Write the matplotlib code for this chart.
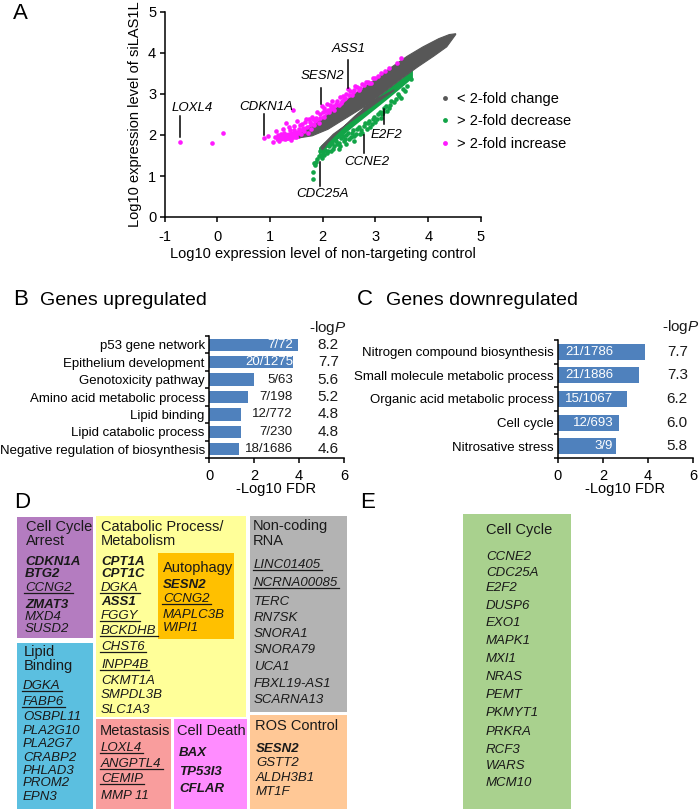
import matplotlib
matplotlib.use("Agg")
import matplotlib.pyplot as plt
from matplotlib.patches import Rectangle
from matplotlib.lines import Line2D

plt.rcParams['font.family'] = ['Liberation Sans', 'DejaVu Sans']
plt.rcParams['mathtext.fontset'] = 'custom'
plt.rcParams['mathtext.rm'] = 'Liberation Sans'
plt.rcParams['mathtext.it'] = 'Liberation Sans:italic'
plt.rcParams['axes.unicode_minus'] = False

# ---------------- Panel A data ----------------
# dense grey cloud (< 2-fold change), outline of the point cloud
gray_top_x = [1.55, 1.8, 2.1, 2.4, 2.7, 3.0, 3.3, 3.6, 3.9, 4.2, 4.4, 4.52]
gray_top_y = [2.0, 2.2, 2.48, 2.78, 3.08, 3.36, 3.65, 3.92, 4.15, 4.35, 4.45, 4.47]
gray_bot_x = [4.52, 4.35, 4.1, 3.8, 3.5, 3.2, 2.9, 2.6, 2.3, 2.1, 1.97]
gray_bot_y = [4.45, 4.15, 3.92, 3.66, 3.38, 3.08, 2.78, 2.45, 2.08, 1.82, 1.58]
gap_lo_x = [1.97, 2.2, 2.5, 2.8, 3.1, 3.35]
gap_lo_y = [1.72, 2.02, 2.30, 2.58, 2.86, 3.08]
gap_hi_x = [3.35, 3.0, 2.7, 2.4, 2.1, 1.8, 1.55]
gap_hi_y = [3.10, 2.86, 2.62, 2.38, 2.14, 1.98, 1.93]

# > 2-fold increase (magenta)
mag_band_x = [1.1, 1.3, 1.55, 1.8, 2.1, 2.4, 2.7, 2.9]
mag_band_lo = [1.85, 1.86, 1.92, 2.1, 2.38, 2.68, 2.98, 3.2]
mag_band_hi = [1.98, 2.06, 2.14, 2.3, 2.58, 2.86, 3.13, 3.28]
mag_x = [-0.71, -0.10, 0.10, 0.89, 0.96, 1.43, 1.05, 1.10, 1.12, 1.18, 1.20, 1.25, 1.28,
         1.30, 1.35, 1.38, 1.40, 1.45, 1.48, 1.50, 1.52, 1.55, 1.58, 1.60, 1.65, 1.68,
         1.70, 1.72, 1.75, 1.78, 1.80, 1.83, 1.86, 1.90, 1.92, 1.95, 1.98, 2.02, 2.05,
         2.08, 2.12, 2.15, 2.18, 2.22, 2.25, 2.30, 2.32, 2.36, 2.40, 2.45, 2.48, 2.52,
         2.55, 2.60, 2.65, 2.70, 2.78, 2.85, 2.92, 3.00, 3.10, 3.26, 3.48,
         1.15, 1.22, 1.27, 1.32, 1.36, 1.42, 1.46, 1.53, 1.57, 1.62, 1.66, 1.74, 1.77,
         1.82, 1.88, 1.94, 2.00, 2.03, 2.10, 2.14, 2.20, 2.27, 2.34, 2.38, 2.42, 2.50,
         2.58, 2.62, 2.68, 2.74, 2.82, 2.88, 2.96, 3.05, 3.18, 3.40]
mag_y = [1.82, 1.80, 2.06, 1.92, 1.97, 2.60, 1.82, 1.95, 2.10, 1.86, 2.02, 2.15, 1.90,
         2.30, 2.00, 2.12, 1.88, 2.22, 2.05, 1.95, 2.35, 2.15, 2.02, 2.28, 2.10, 2.40,
         2.20, 2.05, 2.32, 2.15, 2.45, 2.25, 2.35, 2.55, 2.30, 2.42, 2.70, 2.45, 2.58,
         2.75, 2.55, 2.66, 2.84, 2.62, 2.76, 2.72, 2.92, 2.82, 2.88, 3.00, 3.12, 3.08,
         2.98, 3.10, 3.18, 3.15, 3.22, 3.30, 3.26, 3.40, 3.50, 3.63, 3.88,
         2.00, 1.95, 2.05, 1.93, 2.20, 1.98, 2.12, 2.05, 2.25, 2.18, 2.32, 2.40, 2.28,
         2.38, 2.42, 2.50, 2.55, 2.65, 2.60, 2.72, 2.70, 2.82, 2.78, 2.95, 2.90, 2.98,
         3.05, 3.20, 3.10, 3.25, 3.30, 3.28, 3.38, 3.45, 3.55, 3.75]

# > 2-fold decrease (green)
grn_band_x = [1.92, 2.0, 2.3, 2.6, 2.9, 3.2, 3.5, 3.7]
grn_band_lo = [1.52, 1.62, 1.92, 2.24, 2.55, 2.86, 3.18, 3.4]
grn_band_hi = [1.7, 1.8, 2.12, 2.48, 2.8, 3.1, 3.4, 3.6]
grn_x = [1.81, 1.82, 1.86, 1.84, 1.90, 1.93, 1.96, 1.98, 2.00, 2.05, 2.08, 2.12, 2.15,
         2.18, 2.22, 2.25, 2.31, 2.30, 2.35, 2.40, 2.45, 2.50, 2.55, 2.60, 2.65, 2.70,
         2.75, 2.78, 2.85, 2.90, 2.95, 3.00, 3.05, 3.10, 3.14, 3.17, 3.22, 3.28, 3.35,
         3.45, 3.49, 3.55, 3.68,
         1.88, 1.95, 2.02, 2.10, 2.14, 2.20, 2.27, 2.33, 2.38, 2.43, 2.48, 2.53, 2.58,
         2.63, 2.68, 2.72, 2.80, 2.83, 2.88, 2.93, 2.98, 3.03, 3.08, 3.12, 3.20, 3.25,
         3.30, 3.38, 3.42, 3.52, 3.60, 2.60, 2.45]
grn_y = [0.93, 1.09, 1.26, 1.32, 1.42, 1.48, 1.52, 1.45, 1.58, 1.64, 1.55, 1.72, 1.62,
         1.80, 1.72, 1.86, 1.65, 1.80, 1.93, 1.85, 2.00, 1.90, 2.06, 1.98, 2.14, 2.02,
         2.06, 2.22, 2.30, 2.20, 2.40, 2.32, 2.50, 2.42, 2.55, 2.66, 2.58, 2.72, 2.80,
         2.94, 2.90, 3.08, 3.37,
         1.35, 1.60, 1.50, 1.62, 1.78, 1.66, 1.78, 1.72, 1.98, 1.90, 2.05, 1.96, 2.12,
         2.02, 2.20, 2.12, 2.30, 2.15, 2.35, 2.28, 2.45, 2.40, 2.55, 2.50, 2.70, 2.65,
         2.82, 2.88, 3.00, 3.12, 3.20, 1.85, 1.78]

gene_labels = ["LOXL4", "CDKN1A", "SESN2", "ASS1", "CDC25A", "CCNE2", "E2F2"]
legend_labels = ["< 2-fold change", "> 2-fold decrease", "> 2-fold increase"]

# ---------------- Panel B / C data ----------------
b_terms = ["p53 gene network", "Epithelium development", "Genotoxicity pathway",
           "Amino acid metabolic process", "Lipid binding", "Lipid catabolic process",
           "Negative regulation of biosynthesis"]
b_fdr = [3.95, 3.75, 2.0, 1.75, 1.42, 1.42, 1.35]
b_ratio = ["7/72", "20/1275", "5/63", "7/198", "12/772", "7/230", "18/1686"]
b_logp = ["8.2", "7.7", "5.6", "5.2", "4.8", "4.8", "4.6"]

c_terms = ["Nitrogen compound biosynthesis", "Small molecule metabolic process",
           "Organic acid metabolic process", "Cell cycle", "Nitrosative stress"]
c_fdr = [3.87, 3.6, 3.07, 2.7, 2.58]
c_ratio = ["21/1786", "21/1886", "15/1067", "12/693", "3/9"]
c_logp = ["7.7", "7.3", "6.2", "6.0", "5.8"]

# ---------------- Panel D / E data ----------------
arrest_title = ["Cell Cycle", "Arrest"]
arrest_genes = ["CDKN1A", "BTG2", "CCNG2", "ZMAT3", "MXD4", "SUSD2"]
lipid_title = ["Lipid", "Binding"]
lipid_genes = ["DGKA", "FABP6", "OSBPL11", "PLA2G10", "PLA2G7", "CRABP2", "PHLAD3", "PROM2", "EPN3"]
catab_title = ["Catabolic Process/", "Metabolism"]
catab_genes = ["CPT1A", "CPT1C", "DGKA", "ASS1", "FGGY", "BCKDHB", "CHST6", "INPP4B",
               "CKMT1A", "SMPDL3B", "SLC1A3"]
auto_title = ["Autophagy"]
auto_genes = ["SESN2", "CCNG2", "MAPLC3B", "WIPI1"]
ncrna_title = ["Non-coding", "RNA"]
ncrna_genes = ["LINC01405", "NCRNA00085", "TERC", "RN7SK", "SNORA1", "SNORA79", "UCA1",
               "FBXL19-AS1", "SCARNA13"]
meta_title = ["Metastasis"]
meta_genes = ["LOXL4", "ANGPTL4", "CEMIP", "MMP 11"]
death_title = ["Cell Death"]
death_genes = ["BAX", "TP53I3", "CFLAR"]
ros_title = ["ROS Control"]
ros_genes = ["SESN2", "GSTT2", "ALDH3B1", "MT1F"]
e_title = ["Cell Cycle"]
e_genes = ["CCNE2", "CDC25A", "E2F2", "DUSP6", "EXO1", "MAPK1", "MXI1", "NRAS", "PEMT",
           "PKMYT1", "PRKRA", "RCF3", "WARS", "MCM10"]

bold_genes = {"arrest": ["CDKN1A", "BTG2", "ZMAT3"], "catab": ["CPT1A", "CPT1C", "ASS1"],
              "auto": ["SESN2"], "death": ["BAX", "TP53I3", "CFLAR"], "ros": ["SESN2"]}
under_genes = {"arrest": ["CCNG2"], "lipid": ["DGKA", "FABP6"],
               "catab": ["DGKA", "FGGY", "BCKDHB", "CHST6", "INPP4B"], "auto": ["CCNG2"],
               "ncrna": ["LINC01405", "NCRNA00085"], "meta": ["LOXL4", "ANGPTL4", "CEMIP"]}

# ---------------- Figure ----------------
W, H = 700, 809
fig = plt.figure(figsize=(W / 100, H / 100), dpi=100)
fig.patch.set_facecolor('white')

def ax_rect(x0, y0, x1, y1):
    return [x0 / W, 1 - y1 / H, (x1 - x0) / W, (y1 - y0) / H]

ov = fig.add_axes([0, 0, 1, 1])
ov.set_xlim(0, W)
ov.set_ylim(H, 0)
ov.axis('off')

GRAY = '#575757'
GREEN = '#12a447'
MAG = '#ff1aff'
BLUE = '#4f81bd'
TXT = '#1a1a1a'

# ---------------- Panel A ----------------
axA = fig.add_axes(ax_rect(164.5, 12, 481, 217))
axA.fill_between(mag_band_x, mag_band_lo, mag_band_hi, color=MAG, lw=0, zorder=1)
axA.fill_between(grn_band_x, grn_band_lo, grn_band_hi, color=GREEN, lw=0, zorder=1)
poly_x = gray_top_x + gray_bot_x + gap_lo_x + gap_hi_x
poly_y = gray_top_y + gray_bot_y + gap_lo_y + gap_hi_y
axA.fill(poly_x, poly_y, color=GRAY, lw=0.8, ec=GRAY, zorder=2)
axA.scatter(mag_x, mag_y, s=11, color=MAG, lw=0, zorder=3)
axA.scatter(grn_x, grn_y, s=11, color=GREEN, lw=0, zorder=3)

axA.set_xlim(-1, 5)
axA.set_ylim(0, 5)
axA.set_xticks(range(-1, 6))
axA.set_yticks(range(0, 6))
for s in ['top', 'right']:
    axA.spines[s].set_visible(False)
for s in ['left', 'bottom']:
    axA.spines[s].set_linewidth(1.1)
axA.tick_params(direction='out', length=3.5, width=1.1, labelsize=10.5)
axA.tick_params(axis='x', pad=6)
axA.tick_params(axis='y', pad=2.5)
axA.set_xlabel("Log10 expression level of non-targeting control", fontsize=10.5, labelpad=2)
axA.set_ylabel("Log10 expression level of siLAS1L", fontsize=10.5, labelpad=4)

lab_line_x = [-0.71, 0.89, 1.96, 2.48, 1.945, 2.78, 3.17]
lab_line_y0 = [1.96, 2.00, 2.75, 3.15, 0.75, 1.57, 2.28]
lab_line_y1 = [2.46, 2.51, 3.15, 3.84, 1.34, 2.00, 2.63]
lab_tx = [-0.48, 0.92, 2.0, 2.49, 1.99, 2.84, 3.21]
lab_ty = [2.65, 2.68, 3.43, 4.09, 0.56, 1.34, 2.0]
for g, lx, y0, y1, tx, ty in zip(gene_labels, lab_line_x, lab_line_y0, lab_line_y1, lab_tx, lab_ty):
    axA.plot([lx, lx], [y0, y1], color='black', lw=1.1, zorder=4)
    axA.text(tx, ty, g, ha='center', va='center', fontsize=9.5, style='italic', zorder=5)

handles = [Line2D([], [], ls='none', marker='o', ms=3.5, mec='none', mfc=c)
           for c in [GRAY, GREEN, MAG]]
axA.legend(handles, legend_labels, loc='upper left', bbox_to_anchor=(0.855, 0.64),
           frameon=False, fontsize=10.5, handlelength=0.6, handletextpad=0.5,
           labelspacing=0.6, borderaxespad=0)

ov.text(13, 13, "A", fontsize=16, ha='left', va='center')

# ---------------- Panel B / C ----------------
def bar_panel(rect, terms, vals, ratios, logps, ratio_x, white_rows, head_x, head_dy, bar_h):
    ax = fig.add_axes(rect)
    n = len(terms)
    ypos = list(range(n))
    ax.barh(ypos, vals, height=bar_h, color=BLUE, zorder=2)
    ax.set_xlim(0, 6)
    ax.set_ylim(n - 0.5, -0.5)
    ax.set_xticks([0, 2, 4, 6])
    ax.set_yticks(ypos)
    ax.set_yticklabels(terms, fontsize=9.5)
    ax.set_yticks([i - 0.5 for i in range(n + 1)], minor=True)
    ax.tick_params(axis='y', which='major', length=0, pad=3)
    ax.tick_params(axis='y', which='minor', length=3, width=1.1, direction='out')
    ax.tick_params(axis='x', direction='out', length=3.5, width=1.1, labelsize=10.5, pad=4.5)
    for s in ['top', 'right']:
        ax.spines[s].set_visible(False)
    for s in ['left', 'bottom']:
        ax.spines[s].set_linewidth(1.1)
    ax.set_xlabel("-Log10 FDR", fontsize=10.5, labelpad=-1)
    for i in range(n):
        col = 'white' if white_rows[i] else TXT
        ax.text(ratio_x, i, ratios[i], ha='right', va='center', fontsize=9.5, color=col, zorder=3)
        ax.text(5.3, i, logps[i], ha='center', va='center', fontsize=11, color=TXT, clip_on=False)
    ax.text(head_x, -0.5 - head_dy, r"-log$\it{P}$", ha='center', va='center', fontsize=11,
            color=TXT, clip_on=False)
    return ax

axB = bar_panel(ax_rect(209, 336, 344, 458), b_terms, b_fdr, b_ratio, b_logp, 3.73,
                [True, True, False, False, False, False, False], 5.27, 0.46, 0.7)
axC = bar_panel(ax_rect(558, 340, 693, 458), c_terms, c_fdr, c_ratio, c_logp, 2.45,
                [True] * 5, 5.47, 0.55, 0.68)

ov.text(13, 299, "B", fontsize=16, ha='left', va='center')
ov.text(40, 300, "Genes upregulated", fontsize=14, ha='left', va='center')
ov.text(357, 299, "C", fontsize=16, ha='left', va='center')
ov.text(386, 300, "Genes downregulated", fontsize=14, ha='left', va='center')

# ---------------- Panel D / E ----------------
ov.text(14, 502, "D", fontsize=16, ha='left', va='center')
ov.text(360, 502, "E", fontsize=16, ha='left', va='center')

boxes = [
    ("arrest", (17, 517, 93, 638), '#b47cc0', arrest_title, 26, [527, 541], arrest_genes, 25,
     [562, 574, 588, 605, 617, 629]),
    ("lipid", (17, 643, 93, 809), '#5bbfe0', lipid_title, 24, [652, 666], lipid_genes, 23,
     [686, 702, 717, 731, 744, 758, 771, 783, 797]),
    ("catab", (96, 516, 246, 717), '#ffff99', catab_title, 101, [527, 541], catab_genes, 101,
     [562, 574, 588, 602, 616, 631, 647, 665, 681, 695, 710]),
    ("auto", (158, 553, 234, 639), '#ffc000', auto_title, 163, [568], auto_genes, 163,
     [585, 599, 615, 628]),
    ("ncrna", (250, 516, 347, 712), '#b3b3b3', ncrna_title, 253, [526, 541], ncrna_genes, 254,
     [565, 583, 602, 618, 634, 650, 667, 684, 700]),
    ("meta", (96, 719, 171, 809), '#f99d9d', meta_title, 100, [731], meta_genes, 101,
     [748, 764, 779, 796]),
    ("death", (174, 719, 247, 809), '#ff8cff', death_title, 177, [731], death_genes, 179,
     [753, 772, 789]),
    ("ros", (250, 715, 347, 809), '#ffc896', ros_title, 255, [726], ros_genes, 256,
     [749, 763, 778, 792]),
    ("e", (463, 514, 571, 809), '#a9d18e', e_title, 486, [530], e_genes, 486,
     [557, 573, 588, 606, 623, 641, 659, 677, 695, 713, 732, 750, 766, 783]),
]

under_objs = []
for key, (x0, y0, x1, y1), col, title, tx, tys, genes, gx, gys in boxes:
    ov.add_patch(Rectangle((x0, y0), x1 - x0, y1 - y0, facecolor=col, edgecolor='none', zorder=1))
    for t, ty in zip(title, tys):
        ov.text(tx, ty, t, fontsize=10.5, ha='left', va='center', color=TXT, zorder=3)
    for g, gy in zip(genes, gys):
        bold = g in bold_genes.get(key, [])
        t = ov.text(gx, gy, g, fontsize=9.5, ha='left', va='center', style='italic',
                    fontweight='bold' if bold else 'normal', color=TXT, zorder=3)
        if g in under_genes.get(key, []):
            under_objs.append(t)

fig.canvas.draw()
r = fig.canvas.get_renderer()
inv = ov.transData.inverted()
for t in under_objs:
    bb = t.get_window_extent(r)
    (ax0, ay0) = inv.transform((bb.x0, bb.y0))
    (ax1, ay1) = inv.transform((bb.x1, bb.y1))
    yl = ay0 - 1.0
    ov.plot([ax0 - 1, ax1 + 1], [yl, yl], color=TXT, lw=0.9, zorder=3)

fig.savefig("out.png", dpi=100)
